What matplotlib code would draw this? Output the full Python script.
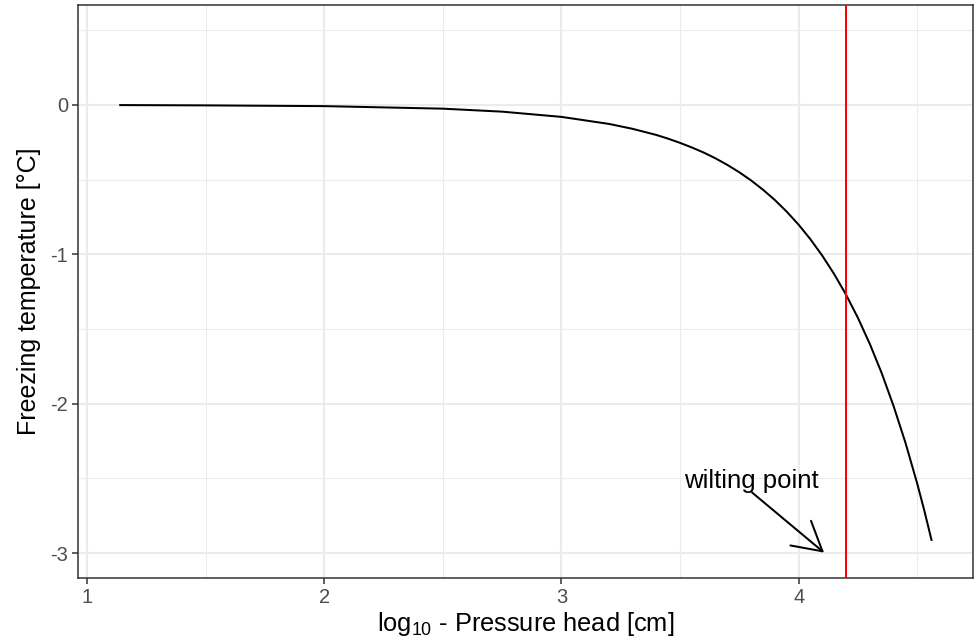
import numpy as np
import matplotlib.pyplot as plt
from matplotlib.ticker import MultipleLocator

plt.rcParams['font.family'] = ['Liberation Sans', 'DejaVu Sans']
plt.rcParams['mathtext.fontset'] = 'custom'
plt.rcParams['mathtext.rm'] = 'Liberation Sans'
plt.rcParams['axes.unicode_minus'] = False

# log10 pressure head [cm] vs freezing temperature [degC]
log_h = [1.14, 1.5, 2.0, 2.5, 2.75, 3.0, 3.2, 3.3, 3.4, 3.45, 3.5, 3.55, 3.6, 3.65,
         3.7, 3.75, 3.8, 3.85, 3.9, 3.95, 4.0, 4.05, 4.1, 4.15, 4.2, 4.25, 4.3,
         4.35, 4.4, 4.45, 4.5, 4.53, 4.56]
t_freeze = [-0.001, -0.003, -0.008, -0.025, -0.045, -0.080, -0.127, -0.160, -0.201,
            -0.226, -0.254, -0.285, -0.319, -0.358, -0.402, -0.451, -0.506, -0.568,
            -0.637, -0.715, -0.802, -0.900, -1.010, -1.133, -1.271, -1.426, -1.600,
            -1.795, -2.015, -2.260, -2.536, -2.717, -2.912]
wilting = 4.2

fig = plt.figure(figsize=(9.74, 6.44), dpi=100)
ax = fig.add_axes([78/974, 1-578/644, 1-78/974-1/974, (578-5)/644])

ax.plot(log_h, t_freeze, color='black', lw=1.45, zorder=3)
ax.axvline(wilting, color='red', lw=1.45, zorder=3)

# label and arrow pointing at the wilting point
ax.text(3.80, -2.515, 'wilting point', ha='center', va='center', fontsize=18.5)
ax.annotate('', xy=(4.107, -2.997), xytext=(3.804, -2.595),
            arrowprops=dict(arrowstyle='->,head_length=1.2,head_width=0.68',
                            mutation_scale=17, color='black', lw=1.45,
                            shrinkA=0, shrinkB=0))

ax.set_xlim(0.962, 4.735)
ax.set_ylim(-3.167, 0.669)
ax.xaxis.set_major_locator(MultipleLocator(1))
ax.xaxis.set_minor_locator(MultipleLocator(0.5))
ax.yaxis.set_major_locator(MultipleLocator(1))
ax.yaxis.set_minor_locator(MultipleLocator(0.5))
ax.grid(which='major', color='#EBEBEB', lw=1.45, zorder=0)
ax.grid(which='minor', color='#EBEBEB', lw=0.75, zorder=0)
ax.set_axisbelow(True)
for s in ax.spines.values():
    s.set_color('#333333')
    s.set_linewidth(1.1)
ax.tick_params(which='major', length=4, width=1.1, color='#333333',
               labelcolor='#4D4D4D', labelsize=14.5, pad=3)
ax.tick_params(which='minor', length=0)

ax.set_xlabel(r'log$_{\mathregular{10}}$ - Pressure head [cm]', fontsize=18.3, labelpad=2)
ax.set_ylabel('Freezing temperature [°C]', fontsize=18, labelpad=7)

fig.savefig('out.png', dpi=100)
